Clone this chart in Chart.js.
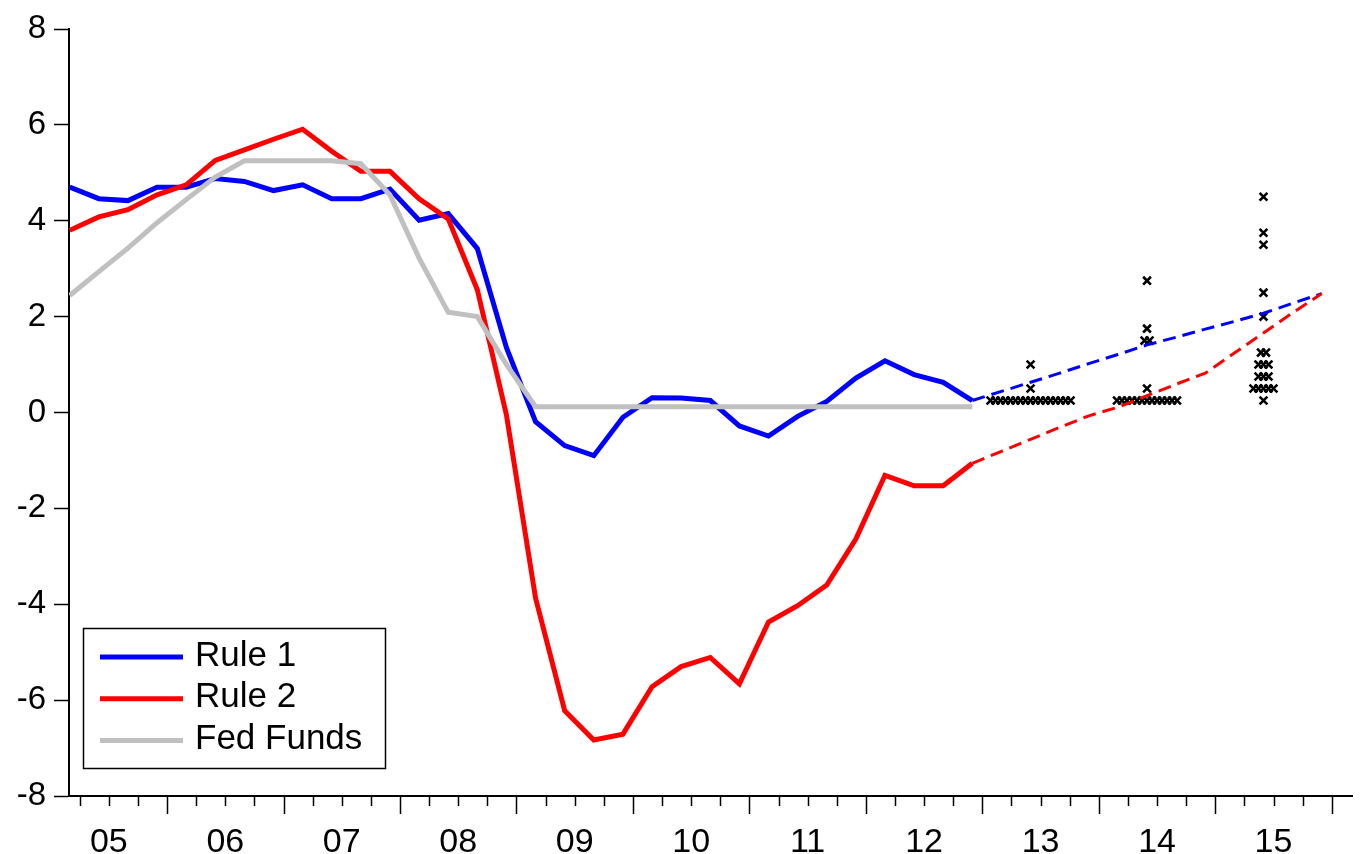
<!DOCTYPE html>
<html>
<head>
<meta charset="utf-8">
<script src="https://cdn.jsdelivr.net/npm/chart.js@4.4.1/dist/chart.umd.min.js"></script>
<style>
  html,body{margin:0;padding:0;background:#fff;}
  #wrap{width:1361px;height:854px;}
</style>
</head>
<body>
<div id="wrap"><canvas id="c" width="1361" height="854"></canvas></div>
<script>
// quarters 2005Q1 .. 2015Q4 -> index 0..43
const yearLabels = ['05','06','07','08','09','10','11','12','13','14','15'];

// history, 2005Q1 .. 2012Q4
const rule1 = [4.70,4.46,4.42,4.70,4.70,4.88,4.82,4.63,4.75,4.46,4.46,4.66,4.01,4.15,3.42,1.35,
               -0.19,-0.69,-0.90,-0.10,0.31,0.30,0.25,-0.28,-0.49,-0.08,0.23,0.72,1.08,0.79,0.63,0.25];
const rule2 = [3.80,4.08,4.23,4.54,4.75,5.26,5.48,5.70,5.91,5.45,5.03,5.03,4.46,4.04,2.56,-0.05,
               -3.87,-6.22,-6.83,-6.71,-5.72,-5.30,-5.11,-5.66,-4.37,-4.03,-3.60,-2.64,-1.31,-1.53,-1.53,-1.06];
const fedFunds = [2.44,2.94,3.43,3.96,4.44,4.91,5.25,5.25,5.25,5.25,5.19,4.54,3.22,2.09,2.00,1.00,
                  0.12,0.12,0.12,0.12,0.12,0.12,0.12,0.12,0.12,0.12,0.12,0.12,0.12,0.12,0.12,0.12];

// projections, 2012Q4 .. 2015Q4
const projStart = 31;
const rule1Proj = [0.25,0.44,0.63,0.82,1.02,1.21,1.41,1.57,1.74,1.90,2.07,2.28,2.48];
const rule2Proj = [-1.06,-0.81,-0.56,-0.31,-0.07,0.11,0.35,0.59,0.82,1.24,1.66,2.08,2.48];

// FOMC participants' projections (x marks), per year: rate levels and how many at each
const dotCenters = [33, 37, 41];
const dotRates  = [[0.25,0.5,1.0],[0.25,0.5,1.5,1.75,2.75],[0.25,0.5,0.75,1.0,1.25,2.0,2.5,3.5,3.75,4.5]];
const dotCounts = [[17,1,1],[13,1,2,1,1],[1,5,3,3,2,1,1,1,1,1]];

const yTicks = [-8,-6,-4,-2,0,2,4,6,8];

const FONT = "'Liberation Sans', Arial, sans-serif";
const series = (arr, start) => arr.map((v,i)=>({x:start+i, y:v}));

const DOT_STEP = 0.172; // horizontal spread of marks sharing a level
const dots = [];
dotCenters.forEach((c,k)=>{
  dotRates[k].forEach((r,j)=>{
    const n = dotCounts[k][j];
    for(let m=0;m<n;m++) dots.push({x:c+(m-(n-1)/2)*DOT_STEP, y:r});
  });
});

const TICK_OFF = 0.344;

const legendItems = [
  {label:'Rule 1', color:'#0000ff'},
  {label:'Rule 2', color:'#ff0000'},
  {label:'Fed Funds', color:'#c0c0c0'}
];

const tickPlugin = {
  id:'qticks',
  afterDraw(chart){
    const ctx = chart.ctx, xs = chart.scales.x, a = chart.chartArea;
    ctx.save();
    ctx.strokeStyle = '#000';
    ctx.lineWidth = 1.5;
    for(let i=0;i<44;i++){
      const px = Math.round(xs.getPixelForValue(i+TICK_OFF))+0.5;
      const len = (i%4===3) ? 18 : 10;
      ctx.beginPath();
      ctx.moveTo(px, a.bottom);
      ctx.lineTo(px, a.bottom+len);
      ctx.stroke();
    }
    // legend
    const bx=83, by=628, bw=302, bh=140;
    ctx.fillStyle='#fff';
    ctx.fillRect(bx,by,bw,bh);
    ctx.lineWidth=1.5;
    ctx.strokeRect(bx+0.5,by+0.5,bw,bh);
    ctx.font = "35px " + FONT;
    ctx.textBaseline='middle';
    legendItems.forEach((it,k)=>{
      const y = 657 + k*41.7;
      ctx.strokeStyle = it.color;
      ctx.lineWidth = 5;
      ctx.beginPath();
      ctx.moveTo(100,y); ctx.lineTo(183,y); ctx.stroke();
      ctx.fillStyle='#000';
      ctx.fillText(it.label, 195, y-1);
    });
    ctx.restore();
  }
};

new Chart(document.getElementById('c'), {
  type:'line',
  data:{
    datasets:[
      {label:'Fed Funds', data:series(fedFunds,0), borderColor:'#c0c0c0', borderWidth:5, pointRadius:0},
      {label:'Rule 2', data:series(rule2,0), borderColor:'#ff0000', borderWidth:5, pointRadius:0},
      {label:'Rule 1', data:series(rule1,0), borderColor:'#0000ff', borderWidth:5, pointRadius:0},
      {label:'Rule 2 proj', data:series(rule2Proj,projStart), borderColor:'#ff0000', borderWidth:3, borderDash:[13,7], pointRadius:0},
      {label:'Rule 1 proj', data:series(rule1Proj,projStart), borderColor:'#0000ff', borderWidth:3, borderDash:[13,7], pointRadius:0},
      {type:'scatter', label:'FOMC', data:dots, showLine:false, pointStyle:'crossRot', pointRadius:5.5,
       borderColor:'#000', backgroundColor:'#000', pointBorderWidth:2.6}
    ]
  },
  options:{
    responsive:false,
    animation:false,
    events:[],
    layout:{padding:{top:29, right:9, left:0, bottom:0}},
    plugins:{legend:{display:false}, tooltip:{enabled:false}},
    scales:{
      x:{
        type:'linear', min:-0.024, max:44.04,
        grid:{display:false},
        border:{display:true, color:'#000', width:2},
        afterFit(s){ s.height = 58; },
        afterBuildTicks(s){ s.ticks = yearLabels.map((_,j)=>({value:1+TICK_OFF+4*j})); },
        ticks:{
          autoSkip:false, maxRotation:0, padding:18, color:'#000',
          font:{family:FONT, size:34},
          callback:(v,i)=>yearLabels[i]
        }
      },
      y:{
        min:-8, max:8,
        afterBuildTicks(s){ s.ticks = yTicks.map(v=>({value:v})); },
        grid:{drawOnChartArea:false, drawTicks:true, tickLength:15, tickColor:'#000', tickWidth:1.5},
        border:{display:true, color:'#000', width:2},
        afterFit(s){ s.width = 69; },
        ticks:{padding:8, color:'#000', font:{family:FONT, size:33}}
      }
    }
  },
  plugins:[tickPlugin]
});
</script>
</body>
</html>
